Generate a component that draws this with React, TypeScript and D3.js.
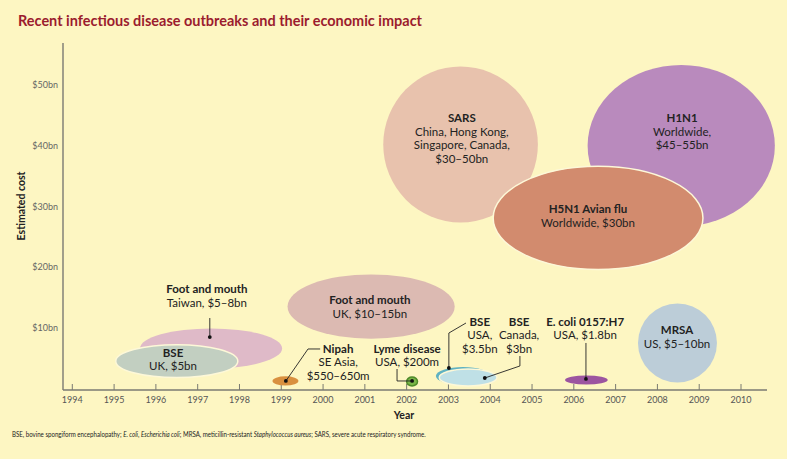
import React from 'react';
import * as d3 from 'd3';

const W = 787;
const H = 459;
const FONT = 'Lato, "Open Sans", sans-serif';

const yearTicks = [1994, 1995, 1996, 1997, 1998, 1999, 2000, 2001, 2002, 2003, 2004, 2005, 2006, 2007, 2008, 2009, 2010];
const costTicks = [10, 20, 30, 40, 50];
const costTickLabels = ['$10bn', '$20bn', '$30bn', '$40bn', '$50bn'];

// Bubbles (in draw order)
const bubbleIds = ['fmdTaiwan', 'bseUK', 'fmdUK', 'sars', 'h1n1', 'h5n1', 'nipah', 'lyme', 'bseUSA', 'bseCanada', 'ecoli', 'mrsa'];
const bubbleYears = [1997.32, 1996.5, 2001.15, 2003.29, 2008.57, 2006.58, 1999.1, 2002.13, 2003.35, 2003.47, 2006.3, 2008.48];
const bubbleCosts = [6.6, 4.5, 13.5, 40.2, 40.0, 28.1, 1.25, 1.15, 2.06, 1.81, 1.4, 7.5];
const bubbleSpanYears = [1.7, 1.46, 2.0, 1.85, 2.24, 2.51, 0.31, 0.13, 0.65, 0.69, 0.51, 0.945];
const bubbleSpanCosts = [3.3, 2.7, 5.3, 12.85, 13.3, 8.5, 0.75, 0.74, 1.48, 1.4, 0.74, 6.5];
const bubbleColors = ['#dfbac8', '#c2cfc1', '#dcbab2', '#e8c2ad', '#b98abd', '#d28b6e', '#d9903f', '#7ab648', '#5fb2c2', '#bfe0e6', '#9c55a0', '#bccdd8'];
const bubbleOutline = ['none', '#fdf8d8', 'none', 'none', 'none', '#fdf8d8', 'none', '#4f8a2a', 'none', '#fdf8d8', 'none', 'none'];

// Labels
const labelTitles = ['Foot and mouth', 'BSE', 'Foot and mouth', 'SARS', 'H1N1', 'H5N1 Avian flu', 'Nipah', 'Lyme disease', 'BSE', 'BSE', 'E. coli 0157:H7', 'MRSA'];
const labelDetails = [
  ['Taiwan, $5–8bn'],
  ['UK, $5bn'],
  ['UK, $10–15bn'],
  ['China, Hong Kong,', 'Singapore, Canada,', '$30–50bn'],
  ['Worldwide,', '$45–55bn'],
  ['Worldwide, $30bn'],
  ['SE Asia,', '$550–650m'],
  ['USA, $200m'],
  ['USA,', '$3.5bn'],
  ['Canada,', '$3bn'],
  ['USA, $1.8bn'],
  ['US, $5–10bn'],
];
const labelYears = [1997.22, 1996.41, 2001.12, 2003.32, 2008.59, 2006.34, 2000.36, 2002.01, 2003.75, 2004.69, 2006.27, 2008.47];
const labelCosts = [15.7, 5.2, 13.9, 43.9, 43.9, 28.9, 5.85, 5.85, 10.3, 10.3, 10.3, 8.97];

// Leader lines: first point is the dot
const leaderYears = [
  [1997.29, 1997.29],
  [1999.11, 1999.64, 1999.93],
  [2002.13, 2001.77, 2001.77],
  [2003.01, 2003.01, 2003.42],
  [2003.87, 2004.71, 2004.71],
  [2006.29, 2006.29],
];
const leaderCosts = [
  [8.48, 11.61],
  [1.24, 6.51, 6.51],
  [1.24, 1.24, 3.21],
  [3.38, 9.14, 10.79],
  [1.73, 3.71, 5.35],
  [1.57, 7.5],
];

export default function App() {
  const x = d3.scaleLinear().domain([1994, 2010]).range([72.3, 741]);
  const y = d3.scaleLinear().domain([0, 50]).range([388.5, 85]);
  const pxPerYear = x(1995) - x(1994);
  const pxPerBn = y(0) - y(1);
  const axisY = 390;
  const axisX = 63;
  const lh = 13.5;
  const line = d3.line<[number, number]>().x((d) => x(d[0])).y((d) => y(d[1]));

  return (
    <div>
      <style>{`body{margin:0;}`}</style>
      <svg width={W} height={H} style={{ display: 'block', fontFamily: FONT }}>
        <rect x={0} y={0} width={W} height={H} fill="#fdf6c2" />
        <text x={18} y={26} fill="#9b1c2e" fontWeight={700} fontSize={14.5} textLength={404} lengthAdjust="spacingAndGlyphs">
          Recent infectious disease outbreaks and their economic impact
        </text>

        {/* axes */}
        <line x1={axisX} x2={axisX} y1={43} y2={axisY} stroke="#7a7a72" strokeWidth={1.4} />
        <line x1={axisX} x2={767} y1={axisY} y2={axisY} stroke="#7a7a72" strokeWidth={1.4} />
        {yearTicks.map((t) => (
          <g key={t}>
            <line x1={x(t)} x2={x(t)} y1={axisY} y2={axisY - 6} stroke="#7a7a72" strokeWidth={1} />
            <text x={x(t)} y={403} textAnchor="middle" fontSize={9} fill="#555">
              {t}
            </text>
          </g>
        ))}
        {costTicks.map((t, i) => (
          <text key={t} x={58} y={y(t) + 3.2} textAnchor="end" fontSize={9} fill="#666">
            {costTickLabels[i]}
          </text>
        ))}
        <text transform={`translate(25,${206}) rotate(-90)`} textAnchor="middle" fontSize={10.5} fontWeight={700} fill="#222">
          Estimated cost
        </text>
        <text x={404} y={419} textAnchor="middle" fontSize={10.5} fontWeight={700} fill="#222">
          Year
        </text>

        {/* bubbles */}
        {bubbleIds.map((id, i) => (
          <ellipse
            key={id}
            cx={x(bubbleYears[i])}
            cy={y(bubbleCosts[i])}
            rx={bubbleSpanYears[i] * pxPerYear}
            ry={bubbleSpanCosts[i] * pxPerBn}
            fill={bubbleColors[i]}
            stroke={bubbleOutline[i]}
            strokeWidth={bubbleOutline[i] === 'none' ? 0 : 1.5}
          />
        ))}

        {/* leaders */}
        {leaderYears.map((ys, i) => {
          const pts = ys.map((yr, j) => [yr, leaderCosts[i][j]] as [number, number]);
          return (
            <g key={i}>
              <path d={line(pts) || ''} fill="none" stroke="#222" strokeWidth={0.9} />
              <circle cx={x(pts[0][0])} cy={y(pts[0][1])} r={1.9} fill="#111" />
            </g>
          );
        })}

        {/* labels */}
        {bubbleIds.map((id, i) => {
          const lx = x(labelYears[i]);
          const ly = y(labelCosts[i]);
          return (
            <text key={id} x={lx} y={ly} textAnchor="middle" fontSize={11.5} fill="#222">
              <tspan x={lx} y={ly} fontWeight={700}>
                {labelTitles[i]}
              </tspan>
              {labelDetails[i].map((d, j) => (
                <tspan key={j} x={lx} y={ly + lh * (j + 1)}>
                  {d}
                </tspan>
              ))}
            </text>
          );
        })}

        <g transform="translate(12,437) scale(0.786,1)">
          <text x={0} y={0} fontSize={7.8} fill="#222">
            BSE, bovine spongiform encephalopathy; <tspan fontStyle="italic">E. coli</tspan>,{' '}
            <tspan fontStyle="italic">Escherichia coli</tspan>; MRSA, meticillin-resistant{' '}
            <tspan fontStyle="italic">Staphylococcus aureus</tspan>; SARS, severe acute respiratory syndrome.
          </text>
        </g>
      </svg>
    </div>
  );
}
